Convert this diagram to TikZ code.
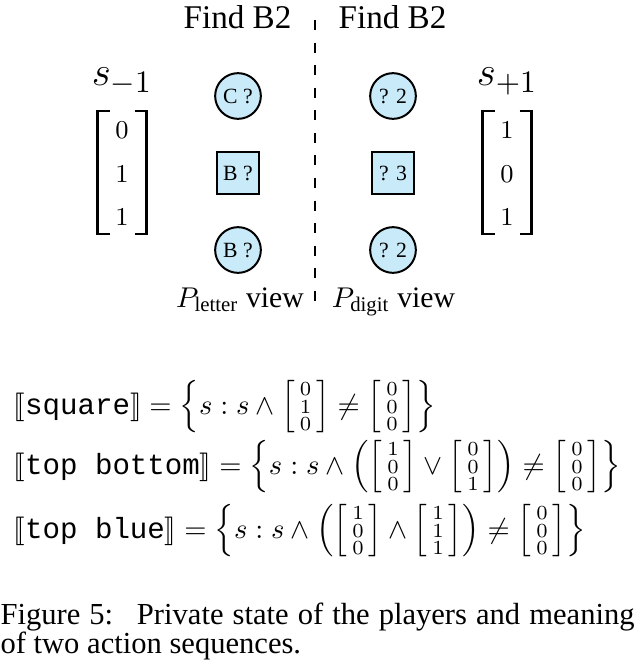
\documentclass[tikz,border=0pt]{standalone}
\usepackage{amsmath}
\usepackage{amssymb}
\usepackage{stmaryrd}
\usepackage{fontspec}
\setmainfont{Liberation Serif}
\setmonofont{Liberation Mono}
\usepackage{tikz}
\usetikzlibrary{positioning}
\definecolor{tokenblue}{RGB}{201,234,248}
\tikzset{
  token/.style={draw=black, fill=tokenblue, line width=0.7pt, inner sep=0pt, font=\fontsize{7.6}{9}\selectfont},
  roundtoken/.style={token, circle, minimum size=16pt},
  squaretoken/.style={token, rectangle, minimum size=14.9pt},
  header/.style={anchor=base, inner sep=0pt, font=\fontsize{11.6}{14}\selectfont},
  viewlabel/.style={anchor=base, inner sep=0pt, font=\fontsize{10.4}{12}\selectfont},
  statename/.style={anchor=base, inner sep=0pt, font=\fontsize{15}{18}\selectfont},
  entry/.style={anchor=base, inner sep=0pt, font=\fontsize{9}{11}\selectfont},
  bracket/.style={draw=black, line width=1pt},
  divider/.style={draw=black, line width=0.6pt, dash pattern=on 3.5pt off 4.4pt},
  meaning/.style={anchor=base west, inner sep=0pt, font=\fontsize{10.2}{12}\selectfont},
  captext/.style={anchor=base west, inner sep=0pt, font=\fontsize{10.7}{12.5}\selectfont}
}
\newcommand{\svec}[3]{\left[\begin{smallmatrix}#1\\#2\\#3\end{smallmatrix}\right]}

\begin{document}
\begin{tikzpicture}[x=0.35pt,y=-0.35pt]
\def\xlet {238}   % x of the letter-view tokens
\def\xdig {393}   % x of the digit-view tokens
\def\xsl {122}    % x of s_{-1}
\def\xsr {507}    % x of s_{+1}
\def\brW {24.5}   % half width of a state bracket
\def\brA {12}     % arm of a state bracket
\def\brT {111}    % top of a state bracket
\def\brB {234}    % bottom of a state bracket
\useasboundingbox (0,0) rectangle (634,661);
% headers:
 \node[header] (findL) at (237.5,29) {Find B2};
 \node[header] (findR) at (392.5,29) {Find B2};
% divider:
 \coordinate (divtop) at (315,20);
 \coordinate (divbot) at (315,310);
 \draw[divider] (divtop) -- (divbot);
% letter view:
 \node[roundtoken]  (let1) at (\xlet,96)  {C ?};
 \node[squaretoken] (let2) at (\xlet,173) {B ?};
 \node[roundtoken]  (let3) at (\xlet,250) {B ?};
% digit view:
 \node[roundtoken]  (dig1) at (\xdig,96)  {? 2};
 \node[squaretoken] (dig2) at (\xdig,173) {? 3};
 \node[roundtoken]  (dig3) at (\xdig,250) {? 2};
% private states:
 \node[statename] (sminus) at (\xsl,86) {$s_{-1}$};
 \node[entry] (sm1) at (\xsl,138) {$0$};
 \node[entry] (sm2) at (\xsl,182) {$1$};
 \node[entry] (sm3) at (\xsl,225) {$1$};
 \draw[bracket] (\xsl-\brW+\brA,\brT) -- (\xsl-\brW,\brT) -- (\xsl-\brW,\brB) -- (\xsl-\brW+\brA,\brB);
 \draw[bracket] (\xsl+\brW-\brA,\brT) -- (\xsl+\brW,\brT) -- (\xsl+\brW,\brB) -- (\xsl+\brW-\brA,\brB);
 \node[statename] (splus) at (\xsr,86) {$s_{+1}$};
 \node[entry] (sp1) at (\xsr,138) {$1$};
 \node[entry] (sp2) at (\xsr,182) {$0$};
 \node[entry] (sp3) at (\xsr,225) {$1$};
 \draw[bracket] (\xsr-\brW+\brA,\brT) -- (\xsr-\brW,\brT) -- (\xsr-\brW,\brB) -- (\xsr-\brW+\brA,\brB);
 \draw[bracket] (\xsr+\brW-\brA,\brT) -- (\xsr+\brW,\brT) -- (\xsr+\brW,\brB) -- (\xsr+\brW-\brA,\brB);
% view labels:
 \node[viewlabel] (viewL) at (240,307) {$P_{\text{letter}}$ view};
 \node[viewlabel] (viewR) at (393.5,307) {$P_{\text{digit}}$ view};
% meanings:
 \node[meaning] (msquare) at (13,414) {$\llbracket\texttt{square}\rrbracket = \left\{s : s \wedge \svec010 \neq \svec000\right\}$};
 \node[meaning] (mtopbot) at (13,474) {$\llbracket\texttt{top bottom}\rrbracket = \left\{s : s \wedge \left(\svec100 \vee \svec001\right) \neq \svec000\right\}$};
 \node[meaning] (mtopblue) at (13,538) {$\llbracket\texttt{top blue}\rrbracket = \left\{s : s \wedge \left(\svec100 \wedge \svec111\right) \neq \svec000\right\}$};
% caption:
 \node[captext] (cap1) at (0,624) {\makebox[221.9pt][s]{Figure 5:\hspace{0.35em} Private state of the players and meaning}};
 \node[captext] (cap2) at (0,653) {of two action sequences.};
\end{tikzpicture}
\end{document}
